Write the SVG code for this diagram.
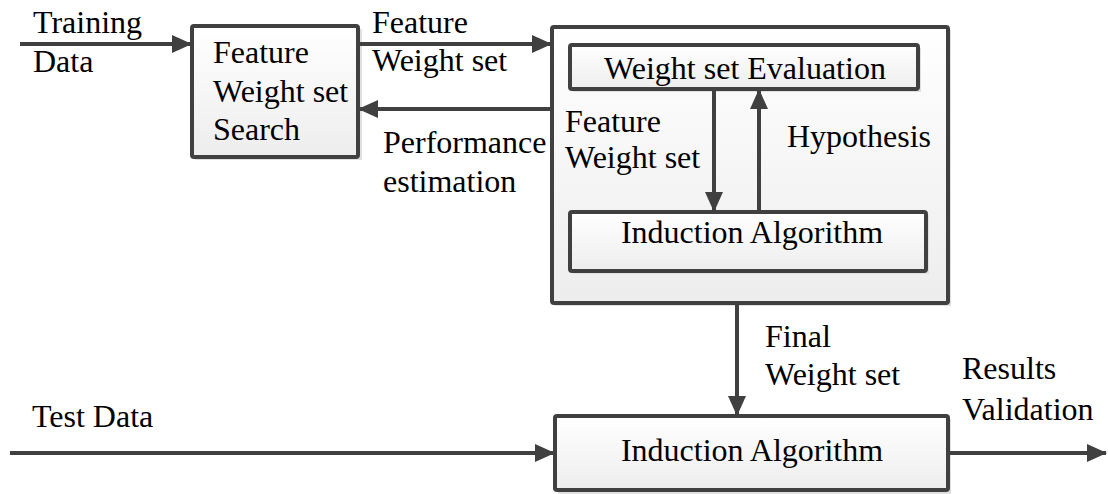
<svg xmlns="http://www.w3.org/2000/svg" width="1108" height="494" viewBox="0 0 1108 494">
  <defs>
    <linearGradient id="boxFill" x1="0" y1="0" x2="0" y2="1">
      <stop offset="0" stop-color="#ffffff"/>
      <stop offset="1" stop-color="#ededed"/>
    </linearGradient>
    <marker id="arrow" viewBox="0 0 20 18" refX="19" refY="9" markerWidth="20" markerHeight="18" markerUnits="userSpaceOnUse" orient="auto">
      <path d="M0,0 L20,9 L0,18 Z" fill="#404040"/>
    </marker>
  </defs>
  <style>
    .box { fill: url(#boxFill); stroke: #404040; stroke-width: 4; }
    .shadow { fill: #e0e0e0; }
    .edge { fill: none; stroke: #404040; stroke-width: 4; marker-end: url(#arrow); }
    text { font-family: "Liberation Serif", "Times New Roman", serif; font-size: 32px; fill: #000; }
    .mid { text-anchor: middle; }
  </style>

  <rect width="1108" height="494" fill="#ffffff"/>

  <!-- search node -->
  <g id="weight-search">
    <rect class="shadow" x="195" y="29" width="167" height="131"/>
    <rect class="box" x="192" y="26" width="166" height="131" rx="2"/>
    <text x="213" y="63">Feature</text>
    <text x="213" y="102">Weight set</text>
    <text x="213" y="140">Search</text>
  </g>

  <!-- evaluation container -->
  <g id="evaluation-frame">
    <rect class="shadow" x="555" y="30" width="396" height="276"/>
    <rect class="box" x="552" y="27" width="396" height="276" rx="2"/>
  </g>

  <g id="weight-evaluation">
    <rect class="shadow" x="573" y="48" width="348" height="44"/>
    <rect class="box" x="570" y="45" width="348" height="44" rx="2"/>
    <text class="mid" x="745" y="79">Weight set Evaluation</text>
  </g>

  <g id="induction-inner">
    <rect class="shadow" x="573" y="215" width="356" height="59"/>
    <rect class="box" x="570" y="212" width="356" height="59" rx="2"/>
    <text class="mid" x="752" y="243">Induction Algorithm</text>
  </g>

  <!-- final induction node -->
  <g id="induction-final">
    <rect class="shadow" x="558" y="419" width="393" height="75"/>
    <rect class="box" x="555" y="416" width="393" height="74" rx="2"/>
    <text class="mid" x="752" y="461">Induction Algorithm</text>
  </g>

  <!-- connectors -->
  <g id="connectors">
    <path class="edge" d="M20,44 L191,44"/>
    <path class="edge" d="M358,44 L551,44"/>
    <path class="edge" d="M552,109 L359,109"/>
    <path class="edge" d="M714,89 L714,211"/>
    <path class="edge" d="M759,212 L759,90"/>
    <path class="edge" d="M737,303 L737,415"/>
    <path class="edge" d="M10,453 L554,453"/>
    <path class="edge" d="M948,453 L1106,453"/>
  </g>

  <!-- connector labels -->
  <g id="labels">
    <text x="33" y="33">Training</text>
    <text x="33" y="72">Data</text>
    <text x="372" y="33">Feature</text>
    <text x="372" y="71">Weight set</text>
    <text x="383" y="153">Performance</text>
    <text x="383" y="192">estimation</text>
    <text x="565" y="132">Feature</text>
    <text x="565" y="168">Weight set</text>
    <text x="787" y="147">Hypothesis</text>
    <text x="765" y="347">Final</text>
    <text x="765" y="385">Weight set</text>
    <text x="32" y="427">Test Data</text>
    <text x="962" y="379">Results</text>
    <text x="962" y="420">Validation</text>
  </g>
</svg>
